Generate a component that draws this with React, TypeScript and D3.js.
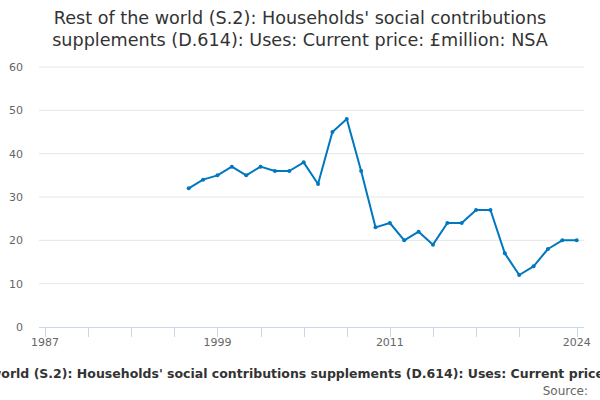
import React from "react";
import * as d3 from "d3";

const years: number[] = [1997,1998,1999,2000,2001,2002,2003,2004,2005,2006,2007,2008,2009,2010,2011,2012,2013,2014,2015,2016,2017,2018,2019,2020,2021,2022,2023,2024];
const values: number[] = [32,34,35,37,35,37,36,36,38,33,45,48,36,23,24,20,22,19,24,24,27,27,17,12,14,18,20,20];
const yTicks: number[] = [0,10,20,30,40,50,60];
const xTickMarks: number[] = [1987,1990,1993,1996,1999,2002,2005,2008,2011,2014,2017,2020,2024];
const xTickLabels: number[] = [1987,1999,2011,2024];
const titleLines: string[] = [
  "Rest of the world (S.2): Households' social contributions",
  "supplements (D.614): Uses: Current price: £million: NSA",
];
const subtitle = "Rest of the world (S.2): Households' social contributions supplements (D.614): Uses: Current price: £million: NSA";

export default function App() {
  const W = 600, H = 400;
  const x = d3.scaleLinear().domain([1986.58, 2024.51]).range([39, 584]);
  const y = d3.scaleLinear().domain([0, 60]).range([327, 67]);
  const pts = years.map((yr, i) => [x(yr), y(values[i])] as [number, number]);
  const line = d3.line<[number, number]>()(pts) || "";
  const font = "'DejaVu Sans', sans-serif";
  return (
    <svg width={W} height={H} style={{ position: "absolute", left: 0, top: 0, fontFamily: font }}>
      <rect width={W} height={H} fill="#fff" />
      {titleLines.map((t, i) => (
        <text key={i} x={300} y={24 + i * 22} textAnchor="middle" fontSize={17.6} fill="#333">{t}</text>
      ))}
      {yTicks.map((t) => (
        <g key={t}>
          {t > 0 && <line x1={39} x2={584} y1={y(t)} y2={y(t)} stroke="#e6e6e6" strokeWidth={1} />}
          <text x={23} y={y(t) + 4} textAnchor="end" fontSize={11} fill="#666">{t}</text>
        </g>
      ))}
      <line x1={39} x2={584} y1={327.5} y2={327.5} stroke="#ccd6eb" strokeWidth={1} />
      {xTickMarks.map((t) => (
        <line key={t} x1={Math.round(x(t)) + 0.5} x2={Math.round(x(t)) + 0.5} y1={327} y2={337} stroke="#ccd6eb" strokeWidth={1} />
      ))}
      {xTickLabels.map((t) => (
        <text key={t} x={x(t)} y={346} textAnchor="middle" fontSize={11} fill="#666">{t}</text>
      ))}
      <path d={line} fill="none" stroke="#0077c0" strokeWidth={2} strokeLinejoin="round" />
      {pts.map((p, i) => (
        <circle key={i} cx={p[0]} cy={p[1]} r={2} fill="#0077c0" />
      ))}
      <text x={308} y={378} textAnchor="middle" fontSize={12.5} fontWeight="bold" fill="#333">{subtitle}</text>
      <text x={588} y={395} textAnchor="end" fontSize={12} fill="#666">Source:</text>
    </svg>
  );
}
